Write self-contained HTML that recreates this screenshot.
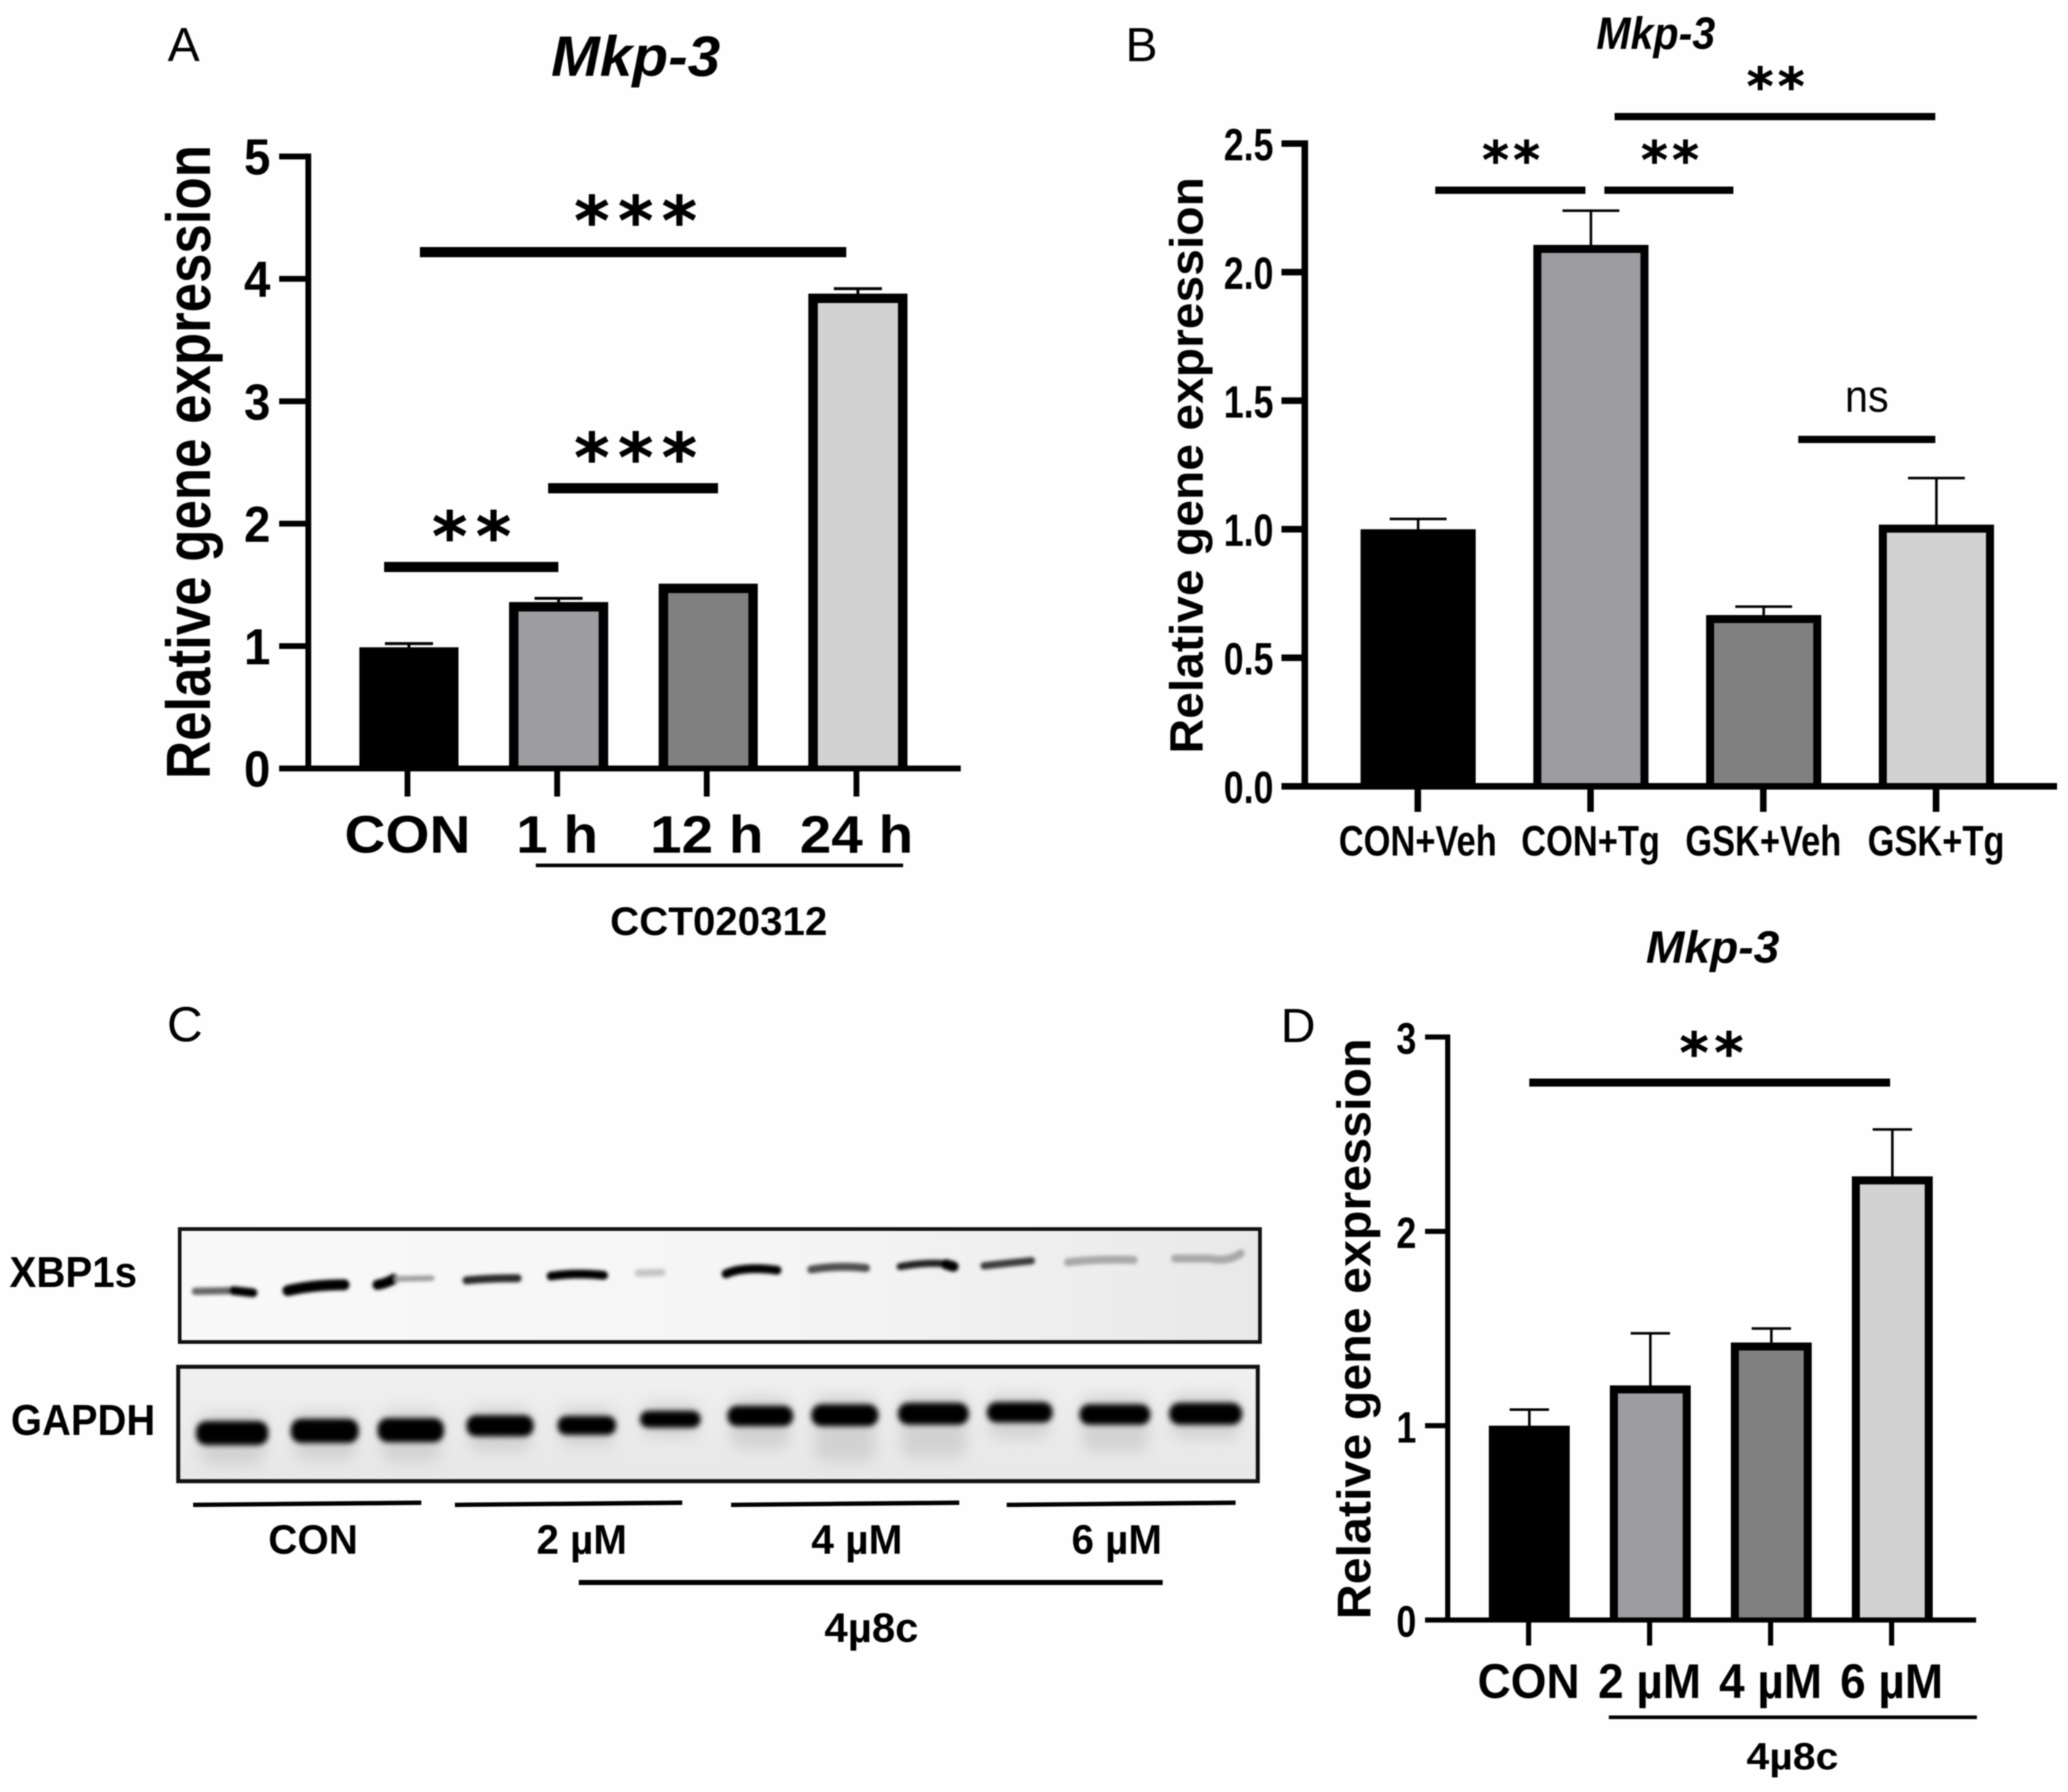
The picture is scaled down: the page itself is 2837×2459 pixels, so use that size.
<!DOCTYPE html>
<html lang="en">
<head>
<meta charset="utf-8">
<title>Mkp-3 relative gene expression figure</title>
<style>
html,body{margin:0;padding:0;background:#fefefe;}
svg{display:block;filter:blur(0.8px);}
text{font-family:"Liberation Sans",sans-serif;fill:#000;}
.b{font-weight:bold;}
.star{font-family:"DejaVu Sans",sans-serif;font-weight:bold;stroke:#000;stroke-width:0.8px;}
.ti{font-weight:bold;font-style:italic;}
</style>
</head>
<body>
<svg id="fig" width="2837" height="2459" viewBox="0 0 2837 2459">
<defs>
<filter id="blur2" x="-10%" y="-50%" width="120%" height="200%"><feGaussianBlur stdDeviation="2.4"/></filter>
<filter id="blur3" x="-10%" y="-50%" width="120%" height="200%"><feGaussianBlur stdDeviation="3.6"/></filter>
<filter id="blur9" x="-10%" y="-50%" width="120%" height="200%"><feGaussianBlur stdDeviation="10"/></filter>
<linearGradient id="blot1bg" x1="0" x2="1" y1="0" y2="0"><stop offset="0" stop-color="#f9f9f9"/><stop offset="0.6" stop-color="#f4f4f4"/><stop offset="1" stop-color="#e8e8e8"/></linearGradient>
<linearGradient id="blot2bg" x1="0" x2="0" y1="0" y2="1"><stop offset="0" stop-color="#f0f0f0"/><stop offset="1" stop-color="#e7e7e7"/></linearGradient>
</defs>
<rect width="2837" height="2459" fill="#fefefe"/>

<!-- Panel letters and titles -->
<text x="230" y="84" font-size="66">A</text>
<text x="1544" y="84" font-size="66">B</text>
<text x="229" y="1429" font-size="68">C</text>
<text x="1757" y="1430" font-size="66">D</text>
<text class="ti" x="756" y="104" font-size="78" textLength="232" lengthAdjust="spacingAndGlyphs">Mkp-3</text>
<text class="ti" x="2190" y="67" font-size="62" textLength="163" lengthAdjust="spacingAndGlyphs">Mkp-3</text>
<text class="ti" x="2258" y="1321" font-size="62" textLength="183" lengthAdjust="spacingAndGlyphs">Mkp-3</text>

<!-- Y axis titles -->
<text class="b" transform="translate(288,1069) rotate(-90)" font-size="85" textLength="870" lengthAdjust="spacingAndGlyphs">Relative gene expression</text>
<text class="b" transform="translate(1650,1034) rotate(-90)" font-size="64" textLength="791" lengthAdjust="spacingAndGlyphs">Relative gene expression</text>
<text class="b" transform="translate(1880,2222) rotate(-90)" font-size="65" textLength="797" lengthAdjust="spacingAndGlyphs">Relative gene expression</text>

<!-- Panel A annotations -->
<g>
<rect x="576" y="339" width="585" height="14"/>
<rect x="752" y="663" width="233" height="14"/>
<rect x="527" y="771" width="239" height="14"/>
<text class="star" x="878" y="335" font-size="92" letter-spacing="12" text-anchor="middle">***</text>
<text class="star" x="878" y="660" font-size="92" letter-spacing="12" text-anchor="middle">***</text>
<text class="star" x="653" y="768" font-size="92" letter-spacing="12" text-anchor="middle">**</text>
</g>
<rect x="735" y="1185" width="504" height="5"/>
<text class="b" x="837" y="1283" font-size="55" textLength="298" lengthAdjust="spacingAndGlyphs">CCT020312</text>

<!-- Panel B annotations -->
<g>
<rect x="1969" y="256" width="206" height="10"/>
<rect x="2201" y="256" width="177" height="10"/>
<rect x="2215" y="155" width="440" height="10"/>
<rect x="2467" y="598" width="188" height="10"/>
<text class="star" x="2076" y="244" font-size="70" letter-spacing="6" text-anchor="middle">**</text>
<text class="star" x="2294" y="244" font-size="70" letter-spacing="6" text-anchor="middle">**</text>
<text class="star" x="2439" y="143" font-size="70" letter-spacing="6" text-anchor="middle">**</text>
<text x="2531" y="565" font-size="62" textLength="60" lengthAdjust="spacingAndGlyphs">ns</text>
</g>

<!-- Panel D annotations -->
<g>
<rect x="2098" y="1480" width="495" height="11"/>
<text class="star" x="2352" y="1471" font-size="76" letter-spacing="8" text-anchor="middle">**</text>
</g>
<rect x="2207" y="2354" width="505" height="5"/>
<text class="b" x="2396" y="2428" font-size="52" textLength="126" lengthAdjust="spacingAndGlyphs">4µ8c</text>

<!-- Panel C western blot -->
<g>
<text class="b" x="13" y="1766" font-size="59" textLength="175" lengthAdjust="spacingAndGlyphs">XBP1s</text>
<text class="b" x="15" y="1969" font-size="59" textLength="198" lengthAdjust="spacingAndGlyphs">GAPDH</text>

<rect x="247" y="1687" width="1481" height="154" fill="url(#blot1bg)"/>
<g filter="url(#blur2)" fill="none" stroke-linecap="round">
<path d="M268 1772 L322 1771" stroke="#666" stroke-width="10"/>
<path d="M320 1771 L347 1774" stroke="#000" stroke-width="12"/>
<path d="M395 1771 Q430 1763 472 1763" stroke="#000" stroke-width="15"/>
<path d="M518 1763 Q530 1761 540 1755" stroke="#000" stroke-width="14"/>
<path d="M545 1755 L592 1754" stroke="#a0a0a0" stroke-width="8"/>
<path d="M640 1757 Q670 1754 710 1754" stroke="#2a2a2a" stroke-width="11"/>
<path d="M756 1751 Q790 1746 828 1750" stroke="#000" stroke-width="12"/>
<path d="M876 1747 L908 1746" stroke="#c5c5c5" stroke-width="10"/>
<path d="M996 1748 Q1020 1737 1066 1743" stroke="#000" stroke-width="12"/>
<path d="M1113 1742 Q1150 1736 1188 1740" stroke="#505050" stroke-width="11"/>
<path d="M1235 1738 Q1275 1731 1302 1735" stroke="#222" stroke-width="10"/>
<path d="M1298 1735 L1308 1738" stroke="#000" stroke-width="14"/>
<path d="M1350 1737 Q1385 1733 1415 1730" stroke="#3a3a3a" stroke-width="10"/>
<path d="M1465 1732 Q1510 1727 1555 1729" stroke="#a8a8a8" stroke-width="11"/>
<path d="M1612 1727 L1660 1727 Q1685 1732 1702 1720" stroke="#a8a8a8" stroke-width="11"/>
</g>
<rect x="246.500" y="1686.500" width="1482" height="155" fill="none" stroke="#111" stroke-width="5"/>

<rect x="245" y="1876" width="1481" height="156" fill="url(#blot2bg)"/>
<g filter="url(#blur9)" fill="#d2d2d2">
<rect x="275" y="1940" width="88" height="70" rx="14"/>
<rect x="404" y="1938" width="84" height="66" rx="14"/>
<rect x="523" y="1936" width="82" height="70" rx="14"/>
<rect x="644" y="1932" width="84" height="60" rx="14"/>
<rect x="769" y="1932" width="74" height="52" rx="14"/>
<rect x="882" y="1926" width="76" height="46" rx="14"/>
<rect x="1002" y="1918" width="82" height="70" rx="14"/>
<rect x="1117" y="1916" width="84" height="90" rx="14"/>
<rect x="1236" y="1914" width="90" height="86" rx="14"/>
<rect x="1358" y="1914" width="82" height="60" rx="14"/>
<rect x="1485" y="1916" width="90" height="76" rx="14"/>
<rect x="1608" y="1914" width="92" height="60" rx="14"/>
</g>
<g filter="url(#blur3)" fill="#000">
<rect x="269" y="1950" width="99" height="33" rx="14"/>
<rect x="399" y="1947" width="93" height="33" rx="14"/>
<rect x="518" y="1946" width="91" height="33" rx="14"/>
<rect x="640" y="1942" width="92" height="29" rx="13"/>
<rect x="765" y="1943" width="80" height="26" rx="12"/>
<rect x="878" y="1936" width="83" height="23" rx="11"/>
<rect x="998" y="1929" width="90" height="28" rx="13"/>
<rect x="1113" y="1927" width="92" height="30" rx="14"/>
<rect x="1232" y="1925" width="97" height="30" rx="14"/>
<rect x="1354" y="1924" width="90" height="28" rx="13"/>
<rect x="1481" y="1927" width="97" height="28" rx="13"/>
<rect x="1604" y="1925" width="100" height="30" rx="14"/>
</g>
<rect x="244.500" y="1875.500" width="1481" height="157" fill="none" stroke="#111" stroke-width="5.500"/>

<line x1="265" y1="2065" x2="578" y2="2062" stroke="#000" stroke-width="6"/>
<line x1="624" y1="2065" x2="936" y2="2062" stroke="#000" stroke-width="6"/>
<line x1="1003" y1="2065" x2="1316" y2="2062" stroke="#000" stroke-width="6"/>
<line x1="1381" y1="2065" x2="1695" y2="2062" stroke="#000" stroke-width="6"/>
<text class="b" x="368" y="2132" font-size="57" textLength="123" lengthAdjust="spacingAndGlyphs">CON</text>
<text class="b" x="736" y="2132" font-size="57" textLength="124" lengthAdjust="spacingAndGlyphs">2 µM</text>
<text class="b" x="1113" y="2132" font-size="57" textLength="125" lengthAdjust="spacingAndGlyphs">4 µM</text>
<text class="b" x="1470" y="2132" font-size="57" textLength="124" lengthAdjust="spacingAndGlyphs">6 µM</text>
<rect x="794" y="2168" width="801" height="7"/>
<text class="b" x="1131" y="2253" font-size="57" textLength="129" lengthAdjust="spacingAndGlyphs">4µ8c</text>
</g>

<g id="chart-a"></g>
<g id="chart-b"></g>
<g id="chart-d"></g>
</svg>

<script>
// Panel A data
const aCategories = ['CON', '1 h', '12 h', '24 h'];
const aValues = [0.99, 1.36, 1.51, 3.88];
const aErrors = [0.03, 0.03, 0, 0.04];
const aTickLabels = ['0', '1', '2', '3', '4', '5'];

// Panel B data
const bCategories = ['CON+Veh', 'CON+Tg', 'GSK+Veh', 'GSK+Tg'];
const bValues = [1.0, 2.106, 0.666, 1.018];
const bErrors = [0.04, 0.133, 0.033, 0.181];
const bTickLabels = ['0.0', '0.5', '1.0', '1.5', '2.0', '2.5'];

// Panel D data
const dCategories = ['CON', '2 µM', '4 µM', '6 µM'];
const dValues = [1.0, 1.207, 1.428, 2.283];
const dErrors = [0.083, 0.268, 0.072, 0.241];
const dTickLabels = ['0', '1', '2', '3'];

const barFills = ['#000000', '#9d9da1', '#808080', '#d2d2d2'];
const NS = 'http://www.w3.org/2000/svg';

function make(parent, tag, attrs, content) {
  const node = document.createElementNS(NS, tag);
  for (const key in attrs) node.setAttribute(key, attrs[key]);
  if (content !== undefined) node.textContent = content;
  parent.appendChild(node);
  return node;
}

function drawChart(cfg) {
  const root = document.getElementById(cfg.id);
  const tickNums = cfg.tickLabels.map(Number);
  const yMax = tickNums[tickNums.length - 1];
  const yScale = function (v) { return cfg.y0 + (cfg.yTop - cfg.y0) * v / yMax; };
  const xScale = function (i) { return cfg.x0 + i * cfg.step; };
  const half = cfg.axisW / 2;

  // bars and error bars
  cfg.values.forEach(function (v, i) {
    const cx = xScale(i) + cfg.barShift;
    const top = yScale(v);
    const err = cfg.errors[i];
    if (err > 0) {
      const errTop = yScale(v + err);
      const stem = make(root, 'line', { x1: cx, x2: cx, y1: errTop, y2: top + 4, stroke: '#000', 'stroke-width': cfg.errW });
      
      
      const cap = make(root, 'line', { x1: cx - cfg.capHalf, x2: cx + cfg.capHalf, y1: errTop, y2: errTop, stroke: '#000', 'stroke-width': cfg.errW });
      
      
    }
    const s = cfg.barStroke;
    const left = cx - cfg.barW / 2 + s / 2;
    const right = cx + cfg.barW / 2 - s / 2;
    const inset = top + s / 2;
    const bar = make(root, 'path', {
      d: 'M' + left + ' ' + cfg.y0 + ' V' + inset + ' H' + right + ' V' + cfg.y0,
      fill: barFills[i],
      stroke: '#000',
      'stroke-width': s
    });
    
    
  });

  // y axis
  const yAxis = make(root, 'rect', { x: cfg.axisX - half, y: cfg.yTop - half, width: cfg.axisW, height: cfg.y0 - cfg.yTop + cfg.axisW, fill: '#000' });
  
  
  cfg.tickLabels.forEach(function (label) {
    const v = Number(label);
    const tick = make(root, 'rect', { x: cfg.tickLeft, y: yScale(v) - half, width: cfg.axisX - cfg.tickLeft, height: cfg.axisW, fill: '#000' });
    
    
    const txt = make(root, 'text', {
      transform: 'translate(' + cfg.yLabelX + ',' + (yScale(v) + cfg.yLabelDy) + ') scale(' + cfg.yLabelSx + ',1)',
      'text-anchor': 'end',
      'font-size': cfg.yLabelSize,
      'class': 'b'
    }, label);
    
    
  });

  // x axis
  const xAxis = make(root, 'rect', { x: cfg.tickLeft, y: cfg.y0 - half, width: cfg.xEnd - cfg.tickLeft, height: cfg.axisW, fill: '#000' });
  
  
  cfg.categories.forEach(function (name, i) {
    const tick = make(root, 'rect', { x: xScale(i) - half, y: cfg.y0, width: cfg.axisW, height: cfg.tickBottom - cfg.y0, fill: '#000' });
    
    
    const txt = make(root, 'text', {
      transform: 'translate(' + xScale(i) + ',' + cfg.xLabelY + ') scale(' + cfg.xLabelSx + ',1)',
      'text-anchor': 'middle',
      'font-size': cfg.xLabelSize,
      'class': 'b'
    }, name);
    
    
  });
}

drawChart({
  id: 'chart-a', categories: aCategories, values: aValues, errors: aErrors, tickLabels: aTickLabels,
  y0: 1054.5, yTop: 214.7, x0: 559, step: 205.3, barShift: 2, barW: 136, barStroke: 13,
  axisX: 423, axisW: 8, tickLeft: 383, xEnd: 1318, tickBottom: 1093,
  errW: 4, capHalf: 33,
  yLabelX: 371, yLabelDy: 25, yLabelSize: 70, yLabelSx: 0.93,
  xLabelY: 1170, xLabelSize: 72, xLabelSx: 1.08
});
drawChart({
  id: 'chart-b', categories: bCategories, values: bValues, errors: bErrors, tickLabels: bTickLabels,
  y0: 1079, yTop: 197, x0: 1945, step: 237, barShift: 0.5, barW: 158, barStroke: 11,
  axisX: 1790, axisW: 9, tickLeft: 1758, xEnd: 2822, tickBottom: 1114,
  errW: 3.5, capHalf: 39,
  yLabelX: 1747, yLabelDy: 23, yLabelSize: 62, yLabelSx: 0.79,
  xLabelY: 1174, xLabelSize: 58, xLabelSx: 0.815
});
drawChart({
  id: 'chart-d', categories: dCategories, values: dValues, errors: dErrors, tickLabels: dTickLabels,
  y0: 2223, yTop: 1423, x0: 2097, step: 166, barShift: 1, barW: 111, barStroke: 11,
  axisX: 1986, axisW: 7, tickLeft: 1955, xEnd: 2711, tickBottom: 2258,
  errW: 3.5, capHalf: 27,
  yLabelX: 1943, yLabelDy: 23, yLabelSize: 60, yLabelSx: 0.82,
  xLabelY: 2330, xLabelSize: 67, xLabelSx: 0.94
});
</script>
</body>
</html>
